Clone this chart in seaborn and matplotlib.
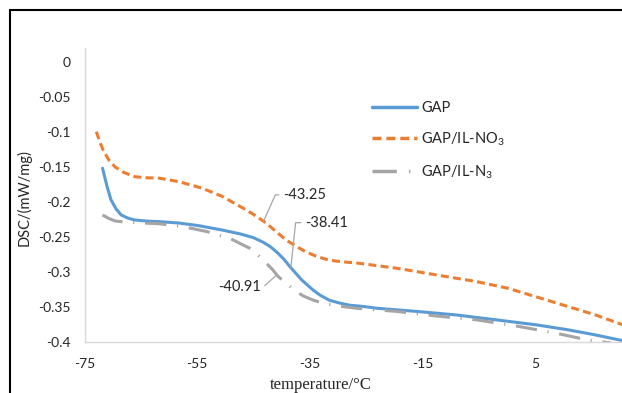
import numpy as np
import pandas as pd
import matplotlib
matplotlib.use("Agg")
import matplotlib.pyplot as plt
from matplotlib.patches import Rectangle
import seaborn as sns

# ── data ──────────────────────────────────────────────────────────────────────
gap_t = [-71.8, -71.0, -70.3, -69.4, -68.5, -67.3, -66.1, -63.5, -61.8, -58.3,
         -54.8, -50.6, -47.4, -45.0, -43.3, -42.0, -40.7, -39.6, -38.6, -37.5,
         -36.5, -35.4, -34.4, -33.2, -31.6, -29.8, -28.1, -25.5, -23.1, -16.1,
         -9.1, -2.0, 5.0, 10.6, 15.6, 20.4]
gap_dsc = [-0.152, -0.178, -0.197, -0.210, -0.2185, -0.223, -0.2257, -0.2275,
           -0.228, -0.230, -0.2337, -0.240, -0.2455, -0.251, -0.2575, -0.264,
           -0.273, -0.282, -0.292, -0.302, -0.311, -0.319, -0.326, -0.333,
           -0.340, -0.344, -0.347, -0.349, -0.3515, -0.356, -0.361, -0.368,
           -0.375, -0.382, -0.3895, -0.3976]

no3_t = [-72.9, -72.3, -71.7, -70.7, -69.6, -68.0, -66.1, -64.0, -61.8, -58.3,
         -54.1, -50.6, -46.4, -44.6, -42.8, -41.0, -39.3, -37.5, -35.8, -33.7,
         -31.6, -29.0, -26.7, -19.6, -12.6, -5.5, 0.1, 5.0, 9.9, 15.6, 20.4]
no3_dsc = [-0.0998, -0.114, -0.126, -0.140, -0.150, -0.158, -0.164, -0.1655,
           -0.166, -0.171, -0.1805, -0.192, -0.211, -0.220, -0.230, -0.2425,
           -0.254, -0.263, -0.271, -0.278, -0.283, -0.2855, -0.287, -0.2945,
           -0.304, -0.3135, -0.323, -0.335, -0.347, -0.361, -0.375]

n3_t = [-71.8, -70.7, -69.6, -68.0, -66.1, -61.8, -57.6, -53.4, -49.2, -45.7,
        -44.2, -42.8, -41.7, -40.7, -39.3, -37.9, -36.2, -34.4, -32.6, -30.9,
        -28.8, -26.7, -19.6, -12.6, -5.5, 1.5, 8.6, 14.2, 18.4]
n3_dsc = [-0.2185, -0.2235, -0.227, -0.2285, -0.2295, -0.231, -0.235, -0.242,
          -0.252, -0.266, -0.276, -0.287, -0.296, -0.306, -0.3155, -0.325,
          -0.334, -0.340, -0.3445, -0.347, -0.3495, -0.3515, -0.356, -0.3625,
          -0.368, -0.3767, -0.387, -0.3967, -0.401]

series_names = ["GAP", "GAP/IL-NO$_\\mathregular{3}$", "GAP/IL-N$_\\mathregular{3}$"]
x_ticks = [-75, -55, -35, -15, 5]
y_ticks = [0, -0.05, -0.1, -0.15, -0.2, -0.25, -0.3, -0.35, -0.4]

# glass transition temperatures and the curve each one sits on
tg_values = [-43.25, -38.41, -40.91]
tg_series = [1, 0, 2]

# ── frame ─────────────────────────────────────────────────────────────────────
df = pd.concat([
    pd.DataFrame({"t": gap_t, "dsc": gap_dsc, "sample": series_names[0]}),
    pd.DataFrame({"t": no3_t, "dsc": no3_dsc, "sample": series_names[1]}),
    pd.DataFrame({"t": n3_t, "dsc": n3_dsc, "sample": series_names[2]}),
], ignore_index=True)

sns.set_style("white")
plt.rcParams["font.family"] = ["Lato", "DejaVu Sans"]
plt.rcParams["axes.unicode_minus"] = False

palette = {series_names[0]: "#5b9bd5", series_names[1]: "#ed7d31", series_names[2]: "#a5a5a5"}
dashes = {series_names[0]: "", series_names[1]: (2.6, 1.4), series_names[2]: (7, 3.5, 0.4, 3.5)}

W, H = 622, 393
fig = plt.figure(figsize=(W / 100, H / 100), dpi=100)
ax_l, ax_r = 84.5, 648.5          # px (plot area runs past the right edge)
ax_t, ax_b = 48.3, 342.3
ax = fig.add_axes([ax_l / W, 1 - ax_b / H, (ax_r - ax_l) / W, (ax_b - ax_t) / H])

sns.lineplot(data=df, x="t", y="dsc", hue="sample", style="sample",
             palette=palette, dashes=dashes, linewidth=2.2, estimator=None,
             sort=False, ax=ax)

ax.set_xlim(-75, 25)
ax.set_ylim(-0.4, 0.019)
ax.set_xticks(x_ticks)
ax.set_xticklabels([f"{v:g}" for v in x_ticks])
ax.set_yticks(y_ticks)
ax.set_yticklabels([f"{v:g}" for v in y_ticks])
ax.tick_params(axis="both", length=0, labelsize=10, labelcolor="#262626")
ax.tick_params(axis="y", pad=10)
ax.tick_params(axis="x", pad=11)

for s in ["top", "right"]:
    ax.spines[s].set_visible(False)
for s in ["left", "bottom"]:
    ax.spines[s].set_color("#d9d9d9")
    ax.spines[s].set_linewidth(1.0)

ax.set_xlabel("temperature/°C", family=["Liberation Serif", "DejaVu Serif"],
              fontsize=12, color="#262626")
ax.set_ylabel("DSC/(mW/mg)", fontsize=10.5, color="#262626")
ax.xaxis.set_label_coords(0.419, -0.118)
ax.yaxis.set_label_coords(-0.094, 0.494)

# legend
leg = ax.get_legend()
handles = leg.legend_handles
labels = [t.get_text() for t in leg.get_texts()]
for h in handles:
    h.set_linewidth(2.5)
ax.legend(handles, labels, frameon=False, loc="upper left",
          bbox_to_anchor=(0.509, 0.822), borderaxespad=0, borderpad=0,
          handlelength=3.1, handletextpad=0.3, labelspacing=1.05,
          fontsize=10.5, labelcolor="#262626")

# Tg data labels with callout lines
curves = [(gap_t, gap_dsc), (no3_t, no3_dsc), (n3_t, n3_dsc)]
label_pos = [(-39.7, -0.190, "left", 66), (-35.8, -0.2295, "left", 84),
             (-43.8, -0.3207, "right", 42)]
for tg, si, (xt, yt, ha, angB) in zip(tg_values, tg_series, label_pos):
    tx, ty = curves[si]
    yp = np.interp(tg, tx, ty)
    ax.annotate(f"{tg:.2f}", xy=(tg, yp), xytext=(xt, yt), ha=ha, va="center",
                fontsize=10.5, color="#262626",
                arrowprops=dict(arrowstyle="-", color="#a6a6a6", lw=0.9,
                                shrinkA=1, shrinkB=0,
                                relpos=(0, 0.5) if ha == "left" else (1, 0.5),
                                connectionstyle=f"angle,angleA=0,angleB={angB},rad=0"))

# outer chart border (cropped on the right and bottom)
fig.add_artist(Rectangle((10 / W, -0.1), 1.2, 1.1 - 10 / H,
                         transform=fig.transFigure, fill=False,
                         edgecolor="black", linewidth=1.5, clip_on=False))

fig.savefig("out.png", dpi=100)
